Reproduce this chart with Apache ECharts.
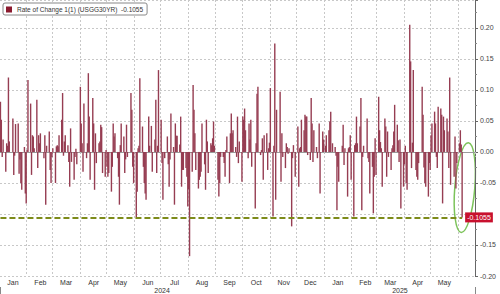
<!DOCTYPE html>
<html><head><meta charset="utf-8">
<script src="https://cdn.jsdelivr.net/npm/echarts@6/dist/echarts.min.js"></script>
<style>html,body{margin:0;padding:0;background:#fff}#c{width:500px;height:294px}</style>
</head><body><div id="c"></div>
<script>
const seriesName = 'Rate of Change 1(1) (USGG30YR)';
const monthNames = ['Jan','Feb','Mar','Apr','May','Jun','Jul','Aug','Sep','Oct','Nov','Dec'];
const axisStart = [2024, 0, 2];
const axisEnd = [2025, 5, 19];
const yMin = -0.2, yMax = 0.245, yStep = 0.05;
// annotation ellipse (value units) around the latest bar
const ellipseTop = 0.015, ellipseBottom = -0.13;

// one value per weekday of each month (null = market holiday)
const jan24 = [0.081, 0.052, -0.008, 0.020, -0.032, 0.014, 0.010, 0.120, 0.017, null, 0.054, -0.037, -0.006, 0.045, 0.046, -0.035, -0.012, -0.050, -0.061, 0.008, -0.067, -0.083];
const feb24 = [0.003, 0.116, 0.078, -0.037, 0.027, 0.025, 0.006, 0.084, -0.026, 0.027, 0.014, 0.030, null, -0.010, 0.027, -0.085, 0.010, 0.033, -0.029, -0.050, -0.008];
const mar24 = [0.006, -0.050, 0.009, 0.011, 0.009, 0.027, 0.052, 0.095, -0.006, 0.017, 0.027, 0.011, -0.016, -0.056, 0.038, -0.016, -0.045, -0.008, 0.005, -0.020, null];
const apr24 = [0.105, 0.046, 0.014, -0.032, 0.078, -0.010, 0.014, 0.127, 0.057, -0.045, 0.087, 0.046, -0.061, 0.030, -0.018, 0.014, 0.017, 0.044, 0.040, -0.034, -0.040, 0.003];
const may24 = [-0.024, -0.040, -0.034, -0.064, -0.024, 0.046, 0.025, 0.030, -0.010, -0.040, -0.085, 0.011, 0.046, 0.025, -0.034, -0.012, 0.044, -0.008, null, 0.095, 0.068, -0.024, -0.050];
const jun24 = [-0.105, -0.064, 0.006, 0.010, 0.119, 0.041, -0.024, -0.050, -0.067, -0.077, 0.057, 0.010, null, 0.042, -0.032, 0.020, 0.084, -0.034, 0.010, 0.132];
const jul24 = [0.052, -0.018, -0.077, null, -0.010, 0.025, -0.020, -0.056, -0.012, 0.062, 0.008, -0.085, 0.046, 0.026, 0.026, 0.012, 0.057, -0.056, -0.029, -0.029, -0.026, -0.040, -0.088];
const aug24 = [-0.060, -0.168, -0.032, 0.108, 0.068, 0.030, -0.029, -0.059, -0.045, -0.040, -0.032, 0.046, -0.020, -0.061, 0.052, 0.017, -0.034, 0.014, 0.011, 0.022, 0.049, 0.010];
const sep24 = [null, -0.045, -0.072, -0.050, -0.008, -0.008, -0.018, -0.040, 0.003, 0.025, -0.050, 0.030, 0.062, 0.030, 0.035, 0.008, -0.008, 0.057, -0.018, 0.017, -0.048];
const oct24 = [0.057, 0.052, 0.070, 0.035, -0.010, 0.046, 0.020, 0.052, -0.024, null, -0.091, 0.014, 0.094, 0.105, -0.005, 0.003, 0.022, -0.045, 0.027, 0.030, -0.029, 0.006, 0.015];
const nov24 = [0.103, -0.104, 0.010, 0.175, -0.077, 0.068, null, 0.097, -0.048, 0.030, -0.008, -0.026, 0.014, 0.008, -0.003, 0.006, -0.120, -0.010, 0.011, null, -0.040];
const dec24 = [0.041, -0.056, 0.006, 0.008, 0.052, 0.035, 0.060, 0.057, 0.057, -0.005, -0.013, 0.087, 0.046, -0.016, 0.035, 0.008, -0.010, null, 0.046, -0.067, 0.033, 0.020];
const jan25 = [null, 0.010, 0.027, 0.035, 0.049, 0.065, null, 0.014, 0.008, -0.006, -0.094, -0.024, -0.048, null, 0.010, 0.044, -0.021, 0.006, -0.072, 0.006, 0.008, 0.027, -0.045];
const feb25 = [-0.104, 0.011, 0.014, 0.057, 0.014, 0.041, 0.087, -0.094, -0.008, 0.010, null, 0.054, -0.010, -0.016, -0.067, -0.024, -0.099, -0.040, 0.022, -0.037];
const mar25 = [0.089, 0.035, 0.016, 0.006, -0.056, 0.054, 0.041, -0.040, 0.033, -0.008, -0.029, 0.006, 0.011, 0.033, 0.076, 0.044, 0.019, -0.016, 0.020, -0.091, -0.056];
const apr25 = [-0.020, 0.010, -0.050, -0.061, 0.205, 0.146, -0.026, 0.015, 0.132, -0.029, -0.040, -0.045, -0.018, null, 0.105, 0.060, -0.025, -0.050, -0.056, -0.072, -0.018, -0.029];
const may25 = [0.027, 0.046, 0.065, 0.046, -0.008, -0.026, 0.073, 0.070, 0.060, -0.083, 0.057, 0.035, 0.054, 0.033, -0.026, 0.120, -0.053, null, -0.040, 0.025, -0.059, -0.018];
const jun25 = [0.014, 0.035, 0.012, -0.1055];

const monthly = {
  '2024-01': jan24, '2024-02': feb24, '2024-03': mar24, '2024-04': apr24,
  '2024-05': may24, '2024-06': jun24, '2024-07': jul24, '2024-08': aug24,
  '2024-09': sep24, '2024-10': oct24, '2024-11': nov24, '2024-12': dec24,
  '2025-01': jan25, '2025-02': feb25, '2025-03': mar25, '2025-04': apr25,
  '2025-05': may25, '2025-06': jun25
};

const pad = n => String(n).padStart(2, '0');
const cats = [], vals = [], counters = {};
const tStart = Date.UTC(axisStart[0], axisStart[1], axisStart[2]);
const tEnd = Date.UTC(axisEnd[0], axisEnd[1], axisEnd[2]);
for (let t = tStart; t <= tEnd; t += 86400000) {
  const d = new Date(t);
  const key = d.getUTCFullYear() + '-' + pad(d.getUTCMonth() + 1);
  cats.push(key + '-' + pad(d.getUTCDate()));
  const wd = d.getUTCDay();
  let v = null;
  if (wd !== 0 && wd !== 6) {
    const arr = monthly[key] || [];
    const i = counters[key] || 0;
    v = i < arr.length ? arr[i] : null;
    counters[key] = i + 1;
  }
  vals.push(v);
}
let lastIdx = vals.length - 1;
while (lastIdx > 0 && vals[lastIdx] == null) lastIdx--;
const lastVal = vals[lastIdx];

// month labels: mid-month (16th) of months that end inside the axis
const endCat = cats[cats.length - 1];
const monthEnd = c => { const y = +c.slice(0, 4), m = +c.slice(5, 7); const dd = new Date(Date.UTC(y, m, 0)); return c.slice(0, 8) + pad(dd.getUTCDate()); };
const isMonthLabel = (i, v) => v.slice(8) === '16' && monthEnd(v) <= endCat;
const isMonthStart = (i, v) => v.slice(8) === '01';
// year labels: middle category of each year on the axis
const yearMid = new Set();
const years = [...new Set(cats.map(c => c.slice(0, 4)))];
years.forEach(y => { const idx = cats.map((c, i) => c.startsWith(y) ? i : -1).filter(i => i >= 0); yearMid.add(cats[idx[Math.floor(idx.length / 2)]]); });

// y labels: multiples of the step, except the one covered by the last-value tag
const yLabel = v => {
  if (Math.abs(v / yStep - Math.round(v / yStep)) > 1e-6) return '';
  if (Math.abs(v - lastVal) < 0.015) return '';
  return (Math.round(v * 100) / 100).toFixed(2);
};

const FONT = 'Liberation Sans, Arial, sans-serif';
const chart = echarts.init(document.getElementById('c'), null, { renderer: 'svg' });
chart.setOption({
  animation: false,
  textStyle: { fontFamily: FONT },
  legend: {
    left: 3, top: 3, icon: 'rect', itemWidth: 6, itemHeight: 6,
    padding: [3, 4, 2, 3], borderColor: '#888', borderWidth: 1, borderRadius: 2,
    backgroundColor: '#fff',
    textStyle: { fontSize: 6.5, color: '#333', fontFamily: FONT },
    data: [{ name: seriesName, itemStyle: { color: '#8b1a2e' } }],
    formatter: n => n + '  ' + lastVal.toFixed(4)
  },
  grid: { left: 0, right: 25, top: 0, bottom: 18 },
  xAxis: [{
    type: 'category', data: cats, boundaryGap: true,
    axisLine: { show: true, lineStyle: { color: '#9a9a9a' } },
    axisTick: { show: true, interval: isMonthStart, length: 5, lineStyle: { color: '#bbb', type: [2, 2] } },
    axisLabel: { interval: isMonthLabel, formatter: v => monthNames[+v.slice(5, 7) - 1], fontSize: 7, color: '#333', margin: 3, fontFamily: FONT },
    splitLine: { show: true, interval: isMonthStart, lineStyle: { color: '#c8c8c8', type: [2, 2] } }
  }, {
    type: 'category', data: cats, boundaryGap: true, position: 'bottom', offset: 11,
    axisLine: { show: false },
    axisTick: { show: true, interval: (i, v) => v.slice(5) === '01-01', length: 7, lineStyle: { color: '#888' } },
    axisLabel: { interval: (i, v) => yearMid.has(v), formatter: v => v.slice(0, 4), fontSize: 7, color: '#333', margin: 0, fontFamily: FONT },
    splitLine: { show: false }
  }],
  yAxis: {
    type: 'value', position: 'right', min: yMin, max: yMax, interval: yStep,
    axisLine: { show: true, lineStyle: { color: '#666' } },
    axisTick: { show: true, length: 3, lineStyle: { color: '#666' } },
    minorTick: { show: true, splitNumber: 2, length: 2, lineStyle: { color: '#888' } },
    axisLabel: { fontSize: 7, color: '#444', margin: 5, fontFamily: FONT, formatter: yLabel },
    splitLine: { show: true, lineStyle: { color: '#c8c8c8', type: [2, 2] } }
  },
  series: [{
    type: 'bar', name: seriesName, data: vals, barWidth: 1.4,
    itemStyle: { color: '#963d52' },
    markLine: {
      silent: true, symbol: ['none', 'none'], animation: false,
      lineStyle: { color: '#7d8b1a', width: 2, type: [6, 3] },
      label: {
        show: true, position: 'end', distance: 3, formatter: () => lastVal.toFixed(4),
        backgroundColor: '#c8102e', color: '#fff', fontSize: 7, padding: [2, 2, 1, 2], fontFamily: FONT
      },
      data: [[{ coord: [cats[0], lastVal] }, { coord: [cats[lastIdx], lastVal] }]]
    }
  }]
});

const cTop = chart.convertToPixel({ seriesIndex: 0 }, [cats[lastIdx + 3], ellipseTop]);
const cBot = chart.convertToPixel({ seriesIndex: 0 }, [cats[lastIdx + 3], ellipseBottom]);
const cx = cTop[0], cy = (cTop[1] + cBot[1]) / 2, ry = (cBot[1] - cTop[1]) / 2;
chart.setOption({
  graphic: [{
    type: 'ellipse', silent: true, x: cx, y: cy, rotation: -0.08,
    shape: { cx: 0, cy: 0, rx: 10, ry: ry },
    style: { fill: 'none', stroke: '#7cc35a', lineWidth: 1.5 }
  }]
});
</script></body></html>
